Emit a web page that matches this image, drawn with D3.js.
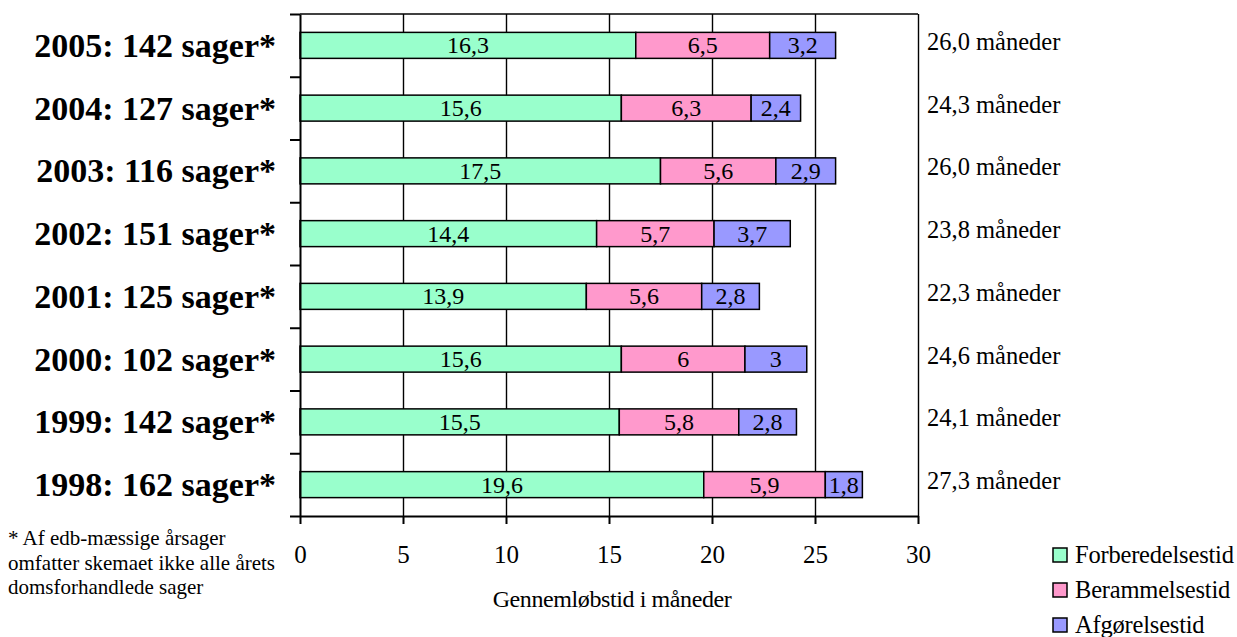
<!DOCTYPE html>
<html>
<head>
<meta charset="utf-8">
<script src="https://cdn.jsdelivr.net/npm/d3@7"></script>
<style>
  body { margin: 0; background: #fff; }
  svg { display: block; font-family: "Liberation Serif", "Times New Roman", serif; }
</style>
</head>
<body>
<svg id="chart" width="1237" height="637"></svg>
<script>
// Data (top row first)
const years = ['2005', '2004', '2003', '2002', '2001', '2000', '1999', '1998'];
const caseCounts = [142, 127, 116, 151, 125, 102, 142, 162];
const forberedelse = [16.3, 15.6, 17.5, 14.4, 13.9, 15.6, 15.5, 19.6];
const berammelse = [6.5, 6.3, 5.6, 5.7, 5.6, 6, 5.8, 5.9];
const afgoerelse = [3.2, 2.4, 2.9, 3.7, 2.8, 3, 2.8, 1.8];
const seriesNames = ['Forberedelsestid', 'Berammelsestid', 'Afgørelsestid'];
const seriesColors = ['#99ffcc', '#ff99cc', '#9999ff'];
const xTicks = [0, 5, 10, 15, 20, 25, 30];
const footnote = ['* Af edb-mæssige årsager', 'omfatter skemaet ikke alle årets', 'domsforhandlede sager'];
const axisTitle = 'Gennemløbstid i måneder';

const rows = years.map((y, i) => ({
  year: y,
  cases: caseCounts[i],
  [seriesNames[0]]: forberedelse[i],
  [seriesNames[1]]: berammelse[i],
  [seriesNames[2]]: afgoerelse[i]
}));

const comma = v => String(v).replace('.', ',');

const svg = d3.select('#chart');
const plot = { left: 300, right: 918, top: 14, bottom: 516 };

const x = d3.scaleLinear().domain([0, 30]).range([plot.left, plot.right]);
const y = d3.scaleBand()
  .domain(years)
  .range([plot.top, plot.bottom])
  .paddingInner(0.586)
  .paddingOuter(0.293);
// slot boundaries for the left axis ticks
const ySlots = d3.scaleLinear().domain([0, years.length]).range([plot.top, plot.bottom]);

// vertical grid lines (5..30, 30 doubles as right border)
svg.append('g')
  .attr('transform', `translate(0,${plot.bottom})`)
  .call(d3.axisBottom(x).tickValues(xTicks.slice(1)).tickSize(-(plot.bottom - plot.top)).tickFormat(''))
  .call(g => g.select('.domain').remove())
  .selectAll('line')
  .attr('stroke', '#000')
  .attr('stroke-width', 1.4);

// top border
svg.append('line')
  .attr('x1', plot.left).attr('x2', plot.right)
  .attr('y1', plot.top).attr('y2', plot.top)
  .attr('stroke', '#000').attr('stroke-width', 1.6);

// stacked bars
const stack = d3.stack().keys(seriesNames)(rows);
const color = d3.scaleOrdinal().domain(seriesNames).range(seriesColors);

const layers = svg.append('g').selectAll('g')
  .data(stack)
  .join('g')
  .attr('fill', d => color(d.key));

layers.selectAll('rect')
  .data(d => d)
  .join('rect')
  .attr('x', d => x(d[0]))
  .attr('y', d => y(d.data.year))
  .attr('width', d => x(d[1]) - x(d[0]))
  .attr('height', y.bandwidth())
  .attr('stroke', '#000')
  .attr('stroke-width', 1.5);

layers.selectAll('text')
  .data(d => d.map(p => ({ p, key: d.key })))
  .join('text')
  .attr('x', d => (x(d.p[0]) + x(d.p[1])) / 2)
  .attr('y', d => y(d.p.data.year) + y.bandwidth() / 2 + 8)
  .attr('text-anchor', 'middle')
  .attr('font-size', 24)
  .attr('fill', '#000')
  .text(d => comma(d.p.data[d.key]));

// left axis with ticks at slot boundaries
svg.append('g')
  .attr('transform', `translate(${plot.left},0)`)
  .call(d3.axisLeft(ySlots).tickValues(d3.range(years.length + 1)).tickSize(10).tickSizeOuter(0).tickFormat(''))
  .call(g => g.selectAll('line, path').attr('stroke', '#000').attr('stroke-width', 2));

// bottom axis
svg.append('g')
  .attr('transform', `translate(0,${plot.bottom})`)
  .call(d3.axisBottom(x).tickValues(xTicks).tickSize(8).tickSizeOuter(0).tickPadding(21))
  .call(g => g.selectAll('line, path').attr('stroke', '#000').attr('stroke-width', 2))
  .call(g => g.selectAll('text')
    .attr('font-size', 25)
    .attr('font-family', '"Liberation Serif", "Times New Roman", serif')
    .attr('fill', '#000'));

// category labels on the left
svg.append('g').selectAll('text')
  .data(rows)
  .join('text')
  .attr('x', 276)
  .attr('y', d => y(d.year) + y.bandwidth() / 2 + 11.5)
  .attr('text-anchor', 'end')
  .attr('font-size', 34)
  .attr('font-weight', 'bold')
  .text(d => `${d.year}: ${d.cases} sager*`);

// totals on the right
svg.append('g').selectAll('text')
  .data(rows)
  .join('text')
  .attr('x', 927)
  .attr('y', d => y(d.year) + y.bandwidth() / 2 + 4.5)
  .attr('font-size', 24.5)
  .text(d => `${d3.sum(seriesNames, k => d[k]).toFixed(1).replace('.', ',')} måneder`);

// axis title
svg.append('text')
  .attr('x', 612)
  .attr('y', 607)
  .attr('text-anchor', 'middle')
  .attr('font-size', 24)
  .attr('letter-spacing', -0.4)
  .text(axisTitle);

// footnote
svg.append('g').selectAll('text')
  .data(footnote)
  .join('text')
  .attr('x', 8)
  .attr('y', (d, i) => 545 + i * 24.5)
  .attr('font-size', 21)
  .text(d => d);

// legend
const legend = svg.append('g').selectAll('g')
  .data(seriesNames)
  .join('g')
  .attr('transform', (d, i) => `translate(1053,${555 + i * 35})`);

legend.append('rect')
  .attr('x', 0).attr('y', -7)
  .attr('width', 14).attr('height', 14)
  .attr('fill', d => color(d))
  .attr('stroke', '#000')
  .attr('stroke-width', 1.5);

legend.append('text')
  .attr('x', 22)
  .attr('y', 8)
  .attr('font-size', 24.5)
  .attr('letter-spacing', -0.2)
  .text(d => d);
</script>
</body>
</html>
